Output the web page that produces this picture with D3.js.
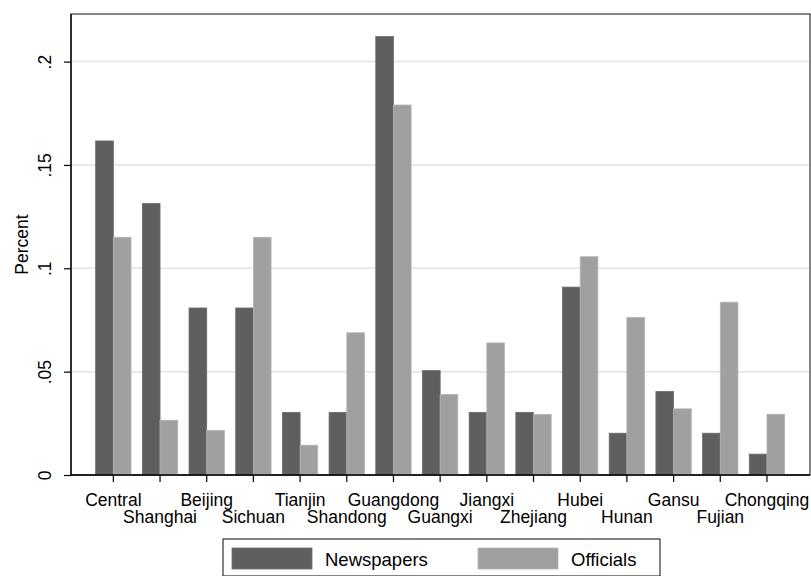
<!DOCTYPE html>
<html>
<head>
<meta charset="utf-8">
<script src="https://cdn.jsdelivr.net/npm/d3@7"></script>
<style>
  html, body { margin: 0; padding: 0; background: #fff; }
  svg { display: block; font-family: "Liberation Sans", Arial, Helvetica, sans-serif; }
</style>
</head>
<body>
<svg id="chart" width="811" height="576"></svg>
<script>
const categories = ["Central","Shanghai","Beijing","Sichuan","Tianjin","Shandong","Guangdong","Guangxi","Jiangxi","Zhejiang","Hubei","Hunan","Gansu","Fujian","Chongqing"];
const newspapers = [0.1616,0.1313,0.0808,0.0808,0.0303,0.0303,0.2121,0.0505,0.0303,0.0303,0.0909,0.0202,0.0404,0.0202,0.0101];
const officials  = [0.1150,0.0265,0.0215,0.1150,0.0144,0.0688,0.1790,0.0390,0.0639,0.0293,0.1056,0.0762,0.0320,0.0836,0.0294];
const yTicks = [0, 0.05, 0.1, 0.15, 0.2];
const yTickLabels = ["0", ".05", ".1", ".15", ".2"];
const seriesNames = ["Newspapers", "Officials"];
const seriesColors = ["#5f5f5f", "#a0a0a0"];
const seriesStroke = ["#6a6a6a", "#b4b4b4"];

const svg = d3.select("#chart");
const L = 71, R = 810, T = 14, B = 475;

const y = d3.scaleLinear().domain([0, 0.2]).range([B, B - 413.4]);
const x = d3.scaleBand().domain(categories).range([90, 790.3]).paddingInner(0.243).paddingOuter(0.1215);
const xs = d3.scaleBand().domain(seriesNames).range([0, x.bandwidth()]);

// frame
svg.append("rect").attr("x", L).attr("y", T).attr("width", R - L).attr("height", B - T)
  .attr("fill", "none").attr("stroke", "#333").attr("stroke-width", 1.2);

// gridlines
svg.append("g").selectAll("line").data(yTicks.filter(d => d > 0)).join("line")
  .attr("x1", L + 1).attr("x2", R - 1)
  .attr("y1", d => y(d)).attr("y2", d => y(d))
  .attr("stroke", "#e3e3e3").attr("stroke-width", 1.5);

// bars
const rows = categories.map((c, i) => ({c, vals: [newspapers[i], officials[i]]}));
const g = svg.append("g");
rows.forEach(r => {
  r.vals.forEach((v, j) => {
    g.append("rect")
      .attr("x", x(r.c) + xs(seriesNames[j]))
      .attr("y", y(v))
      .attr("width", xs.bandwidth())
      .attr("height", y(0) - y(v))
      .attr("fill", seriesColors[j])
      .attr("stroke", seriesStroke[j]).attr("stroke-width", 0.8);
  });
});

// y axis
const yAxis = d3.axisLeft(y).tickValues(yTicks).tickFormat((d, i) => yTickLabels[i]).tickSize(7).tickPadding(0);
const gy = svg.append("g").attr("transform", `translate(${L},0)`).call(yAxis);
gy.select(".domain").attr("stroke", "#000").attr("stroke-width", 1.3).attr("d", `M0,${T}V${B + 0.5}`);
gy.selectAll(".tick line").attr("stroke", "#000").attr("stroke-width", 1.2);
gy.selectAll(".tick text")
  .attr("font-size", 17.5).attr("fill", "#000")
  .attr("text-anchor", "middle")
  .attr("x", 0).attr("y", 0)
  .attr("transform", "translate(-26,0) rotate(-90)")
  .attr("dy", "0.35em");

// x axis
const xAxis = d3.axisBottom(x).tickSize(7).tickPadding(0);
const gx = svg.append("g").attr("transform", `translate(0,${B})`).call(xAxis);
gx.select(".domain").attr("stroke", "#000").attr("stroke-width", 1.3).attr("d", `M${L},0H${R}`);
gx.selectAll(".tick line").attr("stroke", "#000").attr("stroke-width", 1.2);
gx.selectAll(".tick text")
  .attr("font-size", 17.5).attr("fill", "#000")
  .attr("dy", null)
  .attr("y", (d, i) => i % 2 === 0 ? 31 : 48);

// y title
svg.append("text").attr("transform", `translate(28,${(T + B) / 2}) rotate(-90)`)
  .attr("text-anchor", "middle").attr("font-size", 17.5).text("Percent");

// legend
const lg = svg.append("g");
lg.append("rect").attr("x", 223).attr("y", 539).attr("width", 437).attr("height", 37)
  .attr("fill", "#fff").attr("stroke", "#333").attr("stroke-width", 1.2);
const legX = [232, 478];
seriesNames.forEach((s, j) => {
  lg.append("rect").attr("x", legX[j]).attr("y", 548).attr("width", 80).attr("height", 21)
    .attr("fill", seriesColors[j]).attr("stroke", seriesStroke[j]).attr("stroke-width", 0.8);
  lg.append("text").attr("x", legX[j] + 93).attr("y", 566).attr("font-size", 18.5).text(s);
});
</script>
</body>
</html>
